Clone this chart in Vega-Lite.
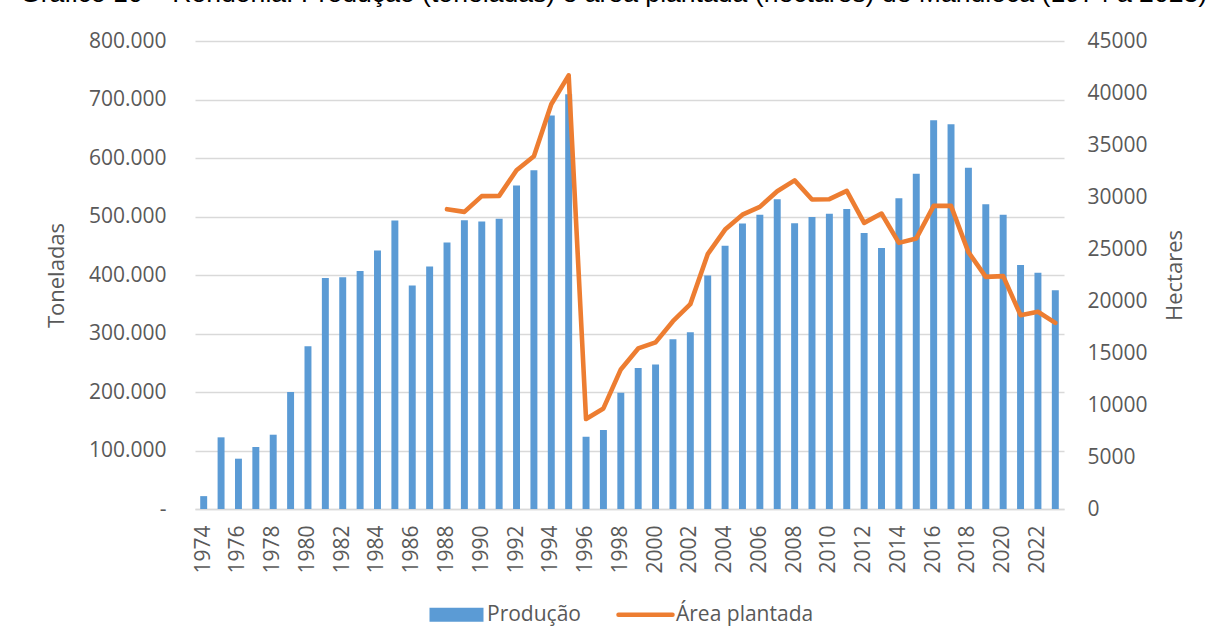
{
  "$schema": "https://vega.github.io/schema/vega-lite/v6.json",
  "width": 869,
  "height": 468,
  "autosize": {"type": "none"},
  "padding": {"left": 195, "top": 41, "right": 144, "bottom": 134},
  "background": "white",
  "title": {
    "text": "Gráfico 10 – Rondônia: Produção (toneladas) e área plantada (hectares) de Mandioca (1974 a 2023)",
    "font": "Liberation Sans",
    "fontSize": 26.6,
    "fontWeight": "normal",
    "color": "#000000",
    "anchor": "start",
    "frame": "group",
    "dx": -175,
    "dy": 15,
    "baseline": "alphabetic",
    "offset": 16
  },
  "data": {
    "values": [
      {"ano": 1974, "producao": 22000, "area": null},
      {"ano": 1975, "producao": 122500, "area": null},
      {"ano": 1976, "producao": 86000, "area": null},
      {"ano": 1977, "producao": 106000, "area": null},
      {"ano": 1978, "producao": 127000, "area": null},
      {"ano": 1979, "producao": 200000, "area": null},
      {"ano": 1980, "producao": 278000, "area": null},
      {"ano": 1981, "producao": 395000, "area": null},
      {"ano": 1982, "producao": 396000, "area": null},
      {"ano": 1983, "producao": 407000, "area": null},
      {"ano": 1984, "producao": 442000, "area": null},
      {"ano": 1985, "producao": 493000, "area": null},
      {"ano": 1986, "producao": 382000, "area": null},
      {"ano": 1987, "producao": 414500, "area": null},
      {"ano": 1988, "producao": 455500, "area": 28830},
      {"ano": 1989, "producao": 493500, "area": 28570},
      {"ano": 1990, "producao": 491500, "area": 30080},
      {"ano": 1991, "producao": 496000, "area": 30110},
      {"ano": 1992, "producao": 553000, "area": 32570},
      {"ano": 1993, "producao": 579000, "area": 33920},
      {"ano": 1994, "producao": 672500, "area": 38920},
      {"ano": 1995, "producao": 709000, "area": 41700},
      {"ano": 1996, "producao": 123500, "area": 8650},
      {"ano": 1997, "producao": 135000, "area": 9670},
      {"ano": 1998, "producao": 198700, "area": 13420},
      {"ano": 1999, "producao": 241000, "area": 15440},
      {"ano": 2000, "producao": 247000, "area": 16020},
      {"ano": 2001, "producao": 290000, "area": 18060},
      {"ano": 2002, "producao": 302000, "area": 19700},
      {"ano": 2003, "producao": 399000, "area": 24500},
      {"ano": 2004, "producao": 450000, "area": 26870},
      {"ano": 2005, "producao": 488000, "area": 28300},
      {"ano": 2006, "producao": 503000, "area": 29050},
      {"ano": 2007, "producao": 529500, "area": 30560},
      {"ano": 2008, "producao": 488500, "area": 31600},
      {"ano": 2009, "producao": 499000, "area": 29760},
      {"ano": 2010, "producao": 504500, "area": 29790},
      {"ano": 2011, "producao": 513000, "area": 30590},
      {"ano": 2012, "producao": 472000, "area": 27510},
      {"ano": 2013, "producao": 446000, "area": 28410},
      {"ano": 2014, "producao": 531000, "area": 25590},
      {"ano": 2015, "producao": 573000, "area": 26010},
      {"ano": 2016, "producao": 664500, "area": 29150},
      {"ano": 2017, "producao": 657500, "area": 29150},
      {"ano": 2018, "producao": 583500, "area": 24700},
      {"ano": 2019, "producao": 521000, "area": 22320},
      {"ano": 2020, "producao": 503000, "area": 22390},
      {"ano": 2021, "producao": 417000, "area": 18640},
      {"ano": 2022, "producao": 404000, "area": 18960},
      {"ano": 2023, "producao": 374000, "area": 17900}
    ]
  },
  "encoding": {
    "x": {
      "field": "ano",
      "type": "ordinal",
      "scale": {"paddingInner": 0.6, "paddingOuter": 0.3},
      "axis": {
        "title": null,
        "values": [1974, 1976, 1978, 1980, 1982, 1984, 1986, 1988, 1990, 1992, 1994, 1996, 1998, 2000, 2002, 2004, 2006, 2008, 2010, 2012, 2014, 2016, 2018, 2020, 2022],
        "labelAngle": -90,
        "labelAlign": "right",
        "labelBaseline": "middle",
        "labelPadding": 16,
        "ticks": false,
        "domain": true,
        "domainColor": "#d9d9d9",
        "domainWidth": 1.3,
        "grid": false
      }
    }
  },
  "layer": [
    {
      "mark": {"type": "bar"},
      "encoding": {
        "y": {
          "field": "producao",
          "type": "quantitative",
          "scale": {"domain": [0, 800000], "nice": false},
          "axis": {
            "title": "Toneladas",
            "orient": "left",
            "values": [0, 100000, 200000, 300000, 400000, 500000, 600000, 700000, 800000],
            "labelExpr": "datum.value == 0 ? '-\u00a0\u00a0' : replace(format(datum.value, ','), ',', '.')",
            "labelPadding": 29,
            "titlePadding": 20,
            "ticks": false,
            "domain": false,
            "grid": true,
            "gridColor": "#d9d9d9",
            "gridWidth": 1.3
          }
        },
        "color": {
          "datum": "Produção",
          "type": "nominal",
          "scale": {"domain": ["Produção", "Área plantada"], "range": ["#5b9bd5", "#ed7d31"]},
          "legend": {
            "title": null,
            "orient": "bottom",
            "direction": "horizontal",
            "offset": 30,
            "symbolSize": 2916,
            "symbolStrokeWidth": 4.5,
            "labelOffset": 20,
            "columnPadding": 28,
            "encode": {
              "symbols": {
                "update": {
                  "shape": {"signal": "datum.value === 'Produção' ? 'M-1,-0.26L1,-0.26L1,0.26L-1,0.26Z' : 'stroke'"},
                  "fill": {"signal": "datum.value === 'Produção' ? '#5b9bd5' : 'transparent'"},
                  "stroke": {"signal": "datum.value === 'Produção' ? 'transparent' : '#ed7d31'"},
                  "strokeWidth": {"signal": "datum.value === 'Produção' ? 0 : 4.5"},
                  "strokeCap": {"value": "round"},
                  "opacity": {"value": 1}
                }
              }
            }
          }
        }
      }
    },
    {
      "transform": [{"filter": "datum.area != null"}],
      "mark": {"type": "line", "strokeWidth": 4.6, "strokeJoin": "round", "strokeCap": "round"},
      "encoding": {
        "y": {
          "field": "area",
          "type": "quantitative",
          "scale": {"domain": [0, 45000], "nice": false},
          "axis": {
            "title": "Hectares",
            "orient": "right",
            "titleAngle": 270,
            "values": [0, 5000, 10000, 15000, 20000, 25000, 30000, 35000, 40000, 45000],
            "format": "d",
            "labelPadding": 23,
            "titlePadding": 39,
            "ticks": false,
            "domain": false,
            "grid": false
          }
        },
        "color": {"datum": "Área plantada", "type": "nominal"}
      }
    }
  ],
  "resolve": {"scale": {"y": "independent"}},
  "config": {
    "view": {"stroke": null},
    "axis": {
      "labelFont": "Open Sans",
      "labelFontSize": 21,
      "labelColor": "#595959",
      "titleFont": "Open Sans",
      "titleFontSize": 22,
      "titleFontWeight": "normal",
      "titleColor": "#595959"
    },
    "legend": {
      "labelFont": "Open Sans",
      "labelFontSize": 21,
      "labelColor": "#595959",
      "labelLimit": 0,
      "layout": {"bottom": {"anchor": "middle"}}
    }
  }
}
